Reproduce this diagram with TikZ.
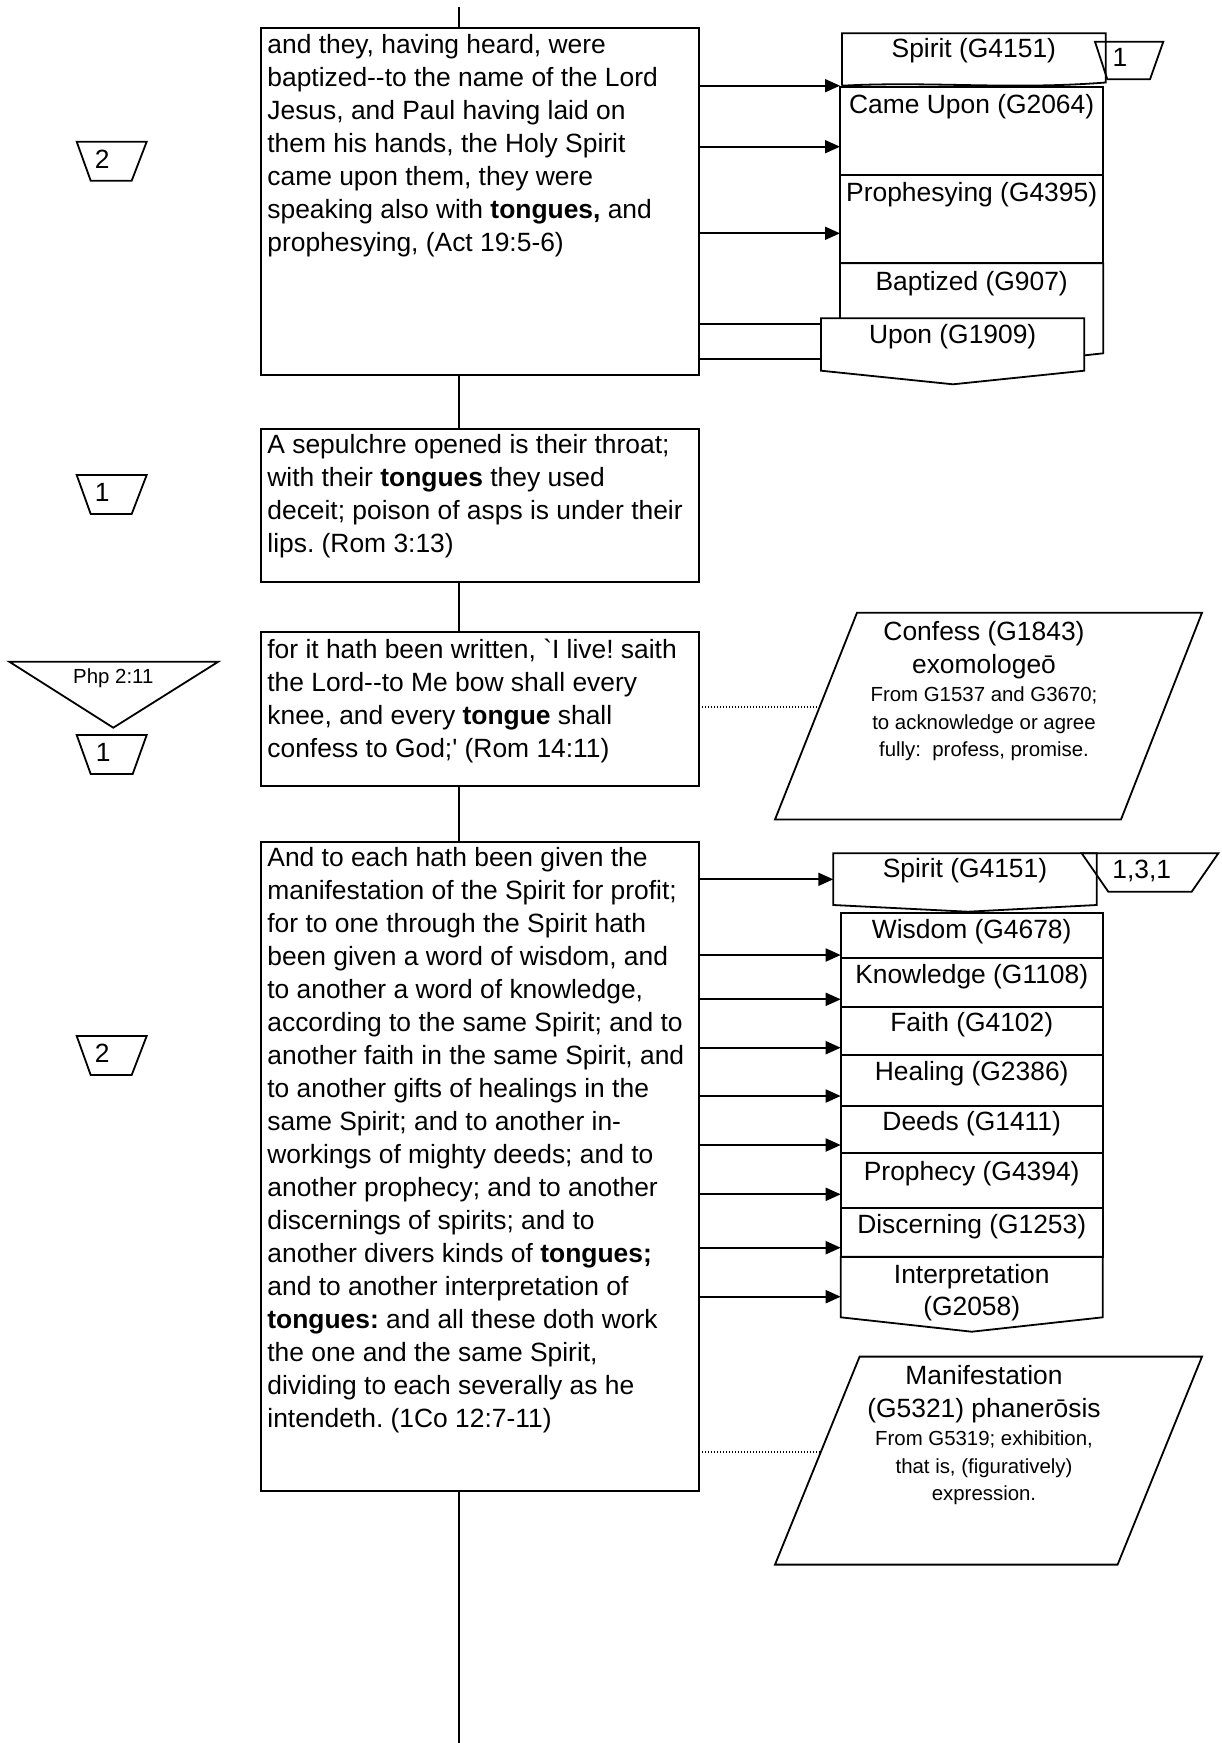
\documentclass[tikz,border=0pt]{standalone}
\usepackage{fontspec}
\setmainfont{Liberation Sans}[Ligatures={TeXOff,CommonOff}]
\usepackage{tikz}
\usetikzlibrary{arrows.meta}

\begin{document}
\begin{tikzpicture}[x=1pt, y=-1pt, line width=1.8pt,
  >={Triangle[length=15pt,width=13pt]},
  every node/.style={execute at begin node={\frenchspacing\spaceskip=0pt\xspaceskip=0pt}},
  vbox/.style={draw, fill=white, anchor=north west, minimum width=438pt, inner sep=0pt, outer sep=0pt},
  vtext/.style={anchor=base west, text width=436pt, align=left, inner sep=0pt, font=\fontsize{26.4}{33}\selectfont},
  gbox/.style={draw, anchor=north west, minimum width=262pt, inner sep=0pt, outer sep=0pt},
  glab/.style={anchor=base, inner sep=0pt, font=\fontsize{26.4}{31.7}\selectfont},
  smalltxt/.style={anchor=base, inner sep=0pt, font=\fontsize{20.4}{27.8}\selectfont},
  ptext/.style={anchor=base, text width=320pt, align=center, inner sep=0pt, font=\fontsize{26.4}{33.4}\selectfont},
  dot/.style={line width=1.2pt, dash pattern=on 1.2pt off 1.8pt}]
\useasboundingbox (0,0) rectangle (1221,1743);

\coordinate (stop) at (459.3,7);
\coordinate (sbot) at (459.3,1743);

\node[vbox, minimum height=347pt] (v1) at (261,28) {};
\node[vbox, minimum height=153pt] (v2) at (261,429.3) {};
\node[vbox, minimum height=153.7pt] (v3) at (261,632) {};
\node[vbox, minimum height=648.7pt] (v4) at (261,842.3) {};

\draw (stop) -- (stop |- v1.north);
\draw (stop |- v1.south) -- (stop |- v2.north);
\draw (stop |- v2.south) -- (stop |- v3.north);
\draw (stop |- v3.south) -- (stop |- v4.north);
\draw (stop |- v4.south) -- (sbot);

\node[vtext] (t1) at ([shift={(5.5,25.6)}]v1.north west) {and they, having heard, were\\
baptized--to the name of the Lord\\
Jesus, and Paul having laid on\\
them his hands, the Holy Spirit\\
came upon them, they were\\
speaking also with \textbf{tongues,} and\\
prophesying, (Act 19:5-6)};
\node[vtext] (t2) at ([shift={(5.5,24.5)}]v2.north west) {A sepulchre opened is their throat;\\
with their \textbf{tongues} they used\\
deceit; poison of asps is under their\\
lips. (Rom 3:13)};
\node[vtext] (t3) at ([shift={(5.5,26)}]v3.north west) {for it hath been written, `I live! saith\\
the Lord--to Me bow shall every\\
knee, and every \textbf{tongue} shall\\
confess to God;' (Rom 14:11)};
\node[vtext] (t4) at ([shift={(5.5,24.5)}]v4.north west) {And to each hath been given the\\
manifestation of the Spirit for profit;\\
for to one through the Spirit hath\\
been given a word of wisdom, and\\
to another a word of knowledge,\\
according to the same Spirit; and to\\
another faith in the same Spirit, and\\
to another gifts of healings in the\\
same Spirit; and to another in-\\
workings of mighty deeds; and to\\
another prophecy; and to another\\
discernings of spirits; and to\\
another divers kinds of \textbf{tongues;}\\
and to another interpretation of\\
\textbf{tongues:} and all these doth work\\
the one and the same Spirit,\\
dividing to each severally as he\\
intendeth. (1Co 12:7-11)};

\node[gbox, draw=none, minimum width=263.7pt, minimum height=52.4pt] (sp1) at (842,33.3) {};
\draw (sp1.south west) -- (sp1.north west) -- (sp1.north east) -- (1105.7,82.5) .. controls (1010,90) and (930,81) .. (sp1.south west);
\node[glab] (sp1l) at ([yshift=-24pt]sp1.north) {Spirit (G4151)};
\node[gbox, minimum width=263.3pt, minimum height=88.3pt] (cu) at (840,86.7) {};
\node[glab] (cul) at ([yshift=-26.7pt]cu.north) {Came Upon (G2064)};
\node[gbox, minimum width=263.3pt, minimum height=88.3pt] (pr) at (840,175) {};
\node[glab] (prl) at ([yshift=-26.7pt]pr.north) {Prophesying (G4395)};
\node[gbox, draw=none, minimum width=263.3pt, minimum height=92pt] (bp) at (840,263.3) {};
\draw (840,362) -- (bp.north west) -- (bp.north east) -- (1103.3,353.3) -- (1060,358);
\node[glab] (bpl) at ([yshift=-26.7pt]bp.north) {Baptized (G907)};
\node[gbox, draw=none, minimum width=263.3pt, minimum height=52.4pt] (up) at (821,318.3) {};
\draw[fill=white] (up.north west) -- (up.north east) -- (up.south east) -- (953,384.3) -- (up.south west) -- cycle;
\node[glab] (upl) at ([yshift=-25pt]up.north) {Upon (G1909)};
\draw (1095,41.7) -- (1163.3,41.7) -- (1150,79.3) -- (1107.3,79.3) -- cycle;
\node[glab] (tg1) at (1120,66.7) {1};

\draw[->] (v1.east |- 0,85.7) -- (cu.west |- 0,85.7);
\draw[->] (v1.east |- 0,146.7) -- (cu.west |- 0,146.7);
\draw[->] (v1.east |- 0,233.3) -- (pr.west |- 0,233.3);
\draw (v1.east |- 0,324) -- (up.west |- 0,324);
\draw (v1.east |- 0,359) -- (up.west |- 0,359);

\node[gbox, draw=none, minimum width=263.4pt, minimum height=51.7pt] (sp2) at (833.3,853.3) {};
\draw (sp2.north west) -- (sp2.north east) -- (sp2.south east) -- (968,911.7) -- (sp2.south west) -- cycle;
\node[glab] (sp2l) at ([yshift=-24pt]sp2.north) {Spirit (G4151)};
\draw (1081.7,853.3) -- (1218.3,853.3) -- (1191.7,891.7) -- (1108.3,891.7) -- cycle;
\node[glab] (tg2) at (1141.7,878.3) {1,3,1};

\node[gbox, minimum height=45pt] (wis) at (840.7,913.3) {};
\node[glab] (wisl) at ([yshift=-25pt]wis.north) {Wisdom (G4678)};
\node[gbox, minimum height=48.4pt] (kno) at (840.7,958.3) {};
\node[glab] (knol) at ([yshift=-25pt]kno.north) {Knowledge (G1108)};
\node[gbox, minimum height=48.3pt] (fai) at (840.7,1006.7) {};
\node[glab] (fail) at ([yshift=-25pt]fai.north) {Faith (G4102)};
\node[gbox, minimum height=50.7pt] (hea) at (840.7,1055) {};
\node[glab] (heal) at ([yshift=-25.7pt]hea.north) {Healing (G2386)};
\node[gbox, minimum height=47.6pt] (dee) at (840.7,1105.7) {};
\node[glab] (deel) at ([yshift=-24.3pt]dee.north) {Deeds (G1411)};
\node[gbox, minimum height=55pt] (prh) at (840.7,1153.3) {};
\node[glab] (prhl) at ([yshift=-26.7pt]prh.north) {Prophecy (G4394)};
\node[gbox, minimum height=48.4pt] (dis) at (840.7,1208.3) {};
\node[glab] (disl) at ([yshift=-25pt]dis.north) {Discerning (G1253)};
\node[gbox, draw=none, minimum height=60.6pt] (int) at (840.7,1256.7) {};
\node[glab, text width=262pt, align=center] (intl) at ([yshift=-26.7pt]int.north) {Interpretation\\(G2058)};
\draw (int.north west) -- (int.north east) -- (int.south east) -- (971.7,1331.7) -- (int.south west) -- cycle;

\draw[->] (v4.east |- 0,879.3) -- (sp2.west |- 0,879.3);
\draw[->] (v4.east |- 0,955) -- (wis.west |- 0,955);
\draw[->] (v4.east |- 0,999.3) -- (kno.west |- 0,999.3);
\draw[->] (v4.east |- 0,1047.7) -- (fai.west |- 0,1047.7);
\draw[->] (v4.east |- 0,1096) -- (hea.west |- 0,1096);
\draw[->] (v4.east |- 0,1145) -- (dee.west |- 0,1145);
\draw[->] (v4.east |- 0,1194.3) -- (prh.west |- 0,1194.3);
\draw[->] (v4.east |- 0,1247.7) -- (dis.west |- 0,1247.7);
\draw[->] (v4.east |- 0,1296.7) -- (int.west |- 0,1296.7);

\draw (76.7,141.7) -- (146.7,141.7) -- (131.7,180.7) -- (90.7,180.7) -- cycle;
\node[glab] (tgA) at (102.3,168.3) {2};
\draw (76.7,475) -- (146.7,475) -- (131.7,514) -- (90.7,514) -- cycle;
\node[glab] (tgB) at (102.3,501.6) {1};
\draw (9.3,661.7) -- (218.3,661.7) -- (113.3,727.7) -- cycle;
\node[smalltxt] (php) at (113.3,683.3) {Php 2:11};
\draw (76.7,735) -- (146.7,735) -- (132.7,774) -- (90.7,774) -- cycle;
\node[glab] (tgC) at (103.3,761.7) {1};
\draw (76.7,1036) -- (146.7,1036) -- (131.7,1075) -- (90.7,1075) -- cycle;
\node[glab] (tgD) at (102.3,1062.6) {2};

\coordinate (p1w) at (819.6,707);
\draw[dot] (v3.east |- p1w) -- (p1w);
\draw (857,612.7) -- (1202,612.7) -- (1121,819.5) -- (775,819.5) -- cycle;
\node[ptext] (p1t) at (984,640) {\centering Confess (G1843)\\exomologeō\par{\fontsize{20.4}{27.8}\selectfont From G1537 and G3670;\\to acknowledge or agree\\fully:\ \ profess, promise.\par}};

\coordinate (p2w) at (820.8,1452);
\draw[dot] (v4.east |- p2w) -- (p2w);
\draw (859.6,1356.6) -- (1202,1356.6) -- (1117.6,1564.6) -- (775,1564.6) -- cycle;
\node[ptext] (p2t) at (984,1384) {\centering Manifestation\\(G5321) phanerōsis\par{\fontsize{20.4}{27.8}\selectfont From G5319; exhibition,\\that is, (figuratively)\\expression.\par}};
\end{tikzpicture}
\end{document}
